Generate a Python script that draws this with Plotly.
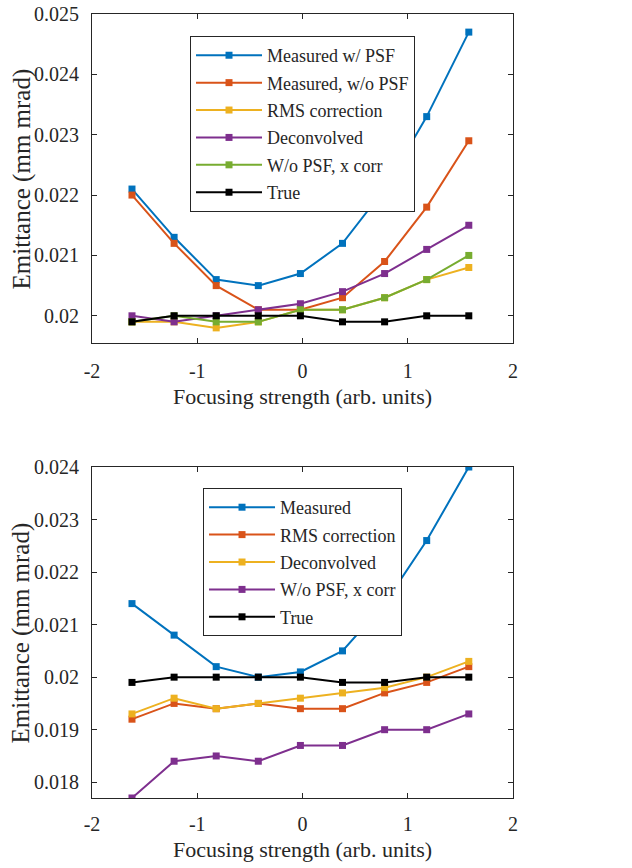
import plotly.graph_objects as go

x = [-1.62, -1.22, -0.82, -0.42, -0.02, 0.38, 0.78, 1.18, 1.58]

# Top panel
top_names = ["Measured w/ PSF", "Measured, w/o PSF", "RMS correction", "Deconvolved", "W/o PSF, x corr", "True"]
top_meas_psf = [0.0221, 0.0213, 0.0206, 0.0205, 0.0207, 0.0212, 0.0221, 0.0233, 0.0247]
top_meas_nopsf = [0.0220, 0.0212, 0.0205, 0.0201, 0.0201, 0.0203, 0.0209, 0.0218, 0.0229]
top_rms = [0.0199, 0.0199, 0.0198, 0.0199, 0.0201, 0.0201, 0.0203, 0.0206, 0.0208]
top_deconv = [0.0200, 0.0199, 0.0200, 0.0201, 0.0202, 0.0204, 0.0207, 0.0211, 0.0215]
top_xcorr = [0.0199, 0.0200, 0.0199, 0.0199, 0.0201, 0.0201, 0.0203, 0.0206, 0.0210]
top_true = [0.0199, 0.0200, 0.0200, 0.0200, 0.0200, 0.0199, 0.0199, 0.0200, 0.0200]

# Bottom panel
bot_names = ["Measured", "RMS correction", "Deconvolved", "W/o PSF, x corr", "True"]
bot_meas = [0.0214, 0.0208, 0.0202, 0.0200, 0.0201, 0.0205, 0.0214, 0.0226, 0.0240]
bot_rms = [0.0192, 0.0195, 0.0194, 0.0195, 0.0194, 0.0194, 0.0197, 0.0199, 0.0202]
bot_deconv = [0.0193, 0.0196, 0.0194, 0.0195, 0.0196, 0.0197, 0.0198, 0.0200, 0.0203]
bot_xcorr = [0.0177, 0.0184, 0.0185, 0.0184, 0.0187, 0.0187, 0.0190, 0.0190, 0.0193]
bot_true = [0.0199, 0.0200, 0.0200, 0.0200, 0.0200, 0.0199, 0.0199, 0.0200, 0.0200]

x_ticks = [-2, -1, 0, 1, 2]
x_ticktext = ["-2", "-1", "0", "1", "2"]
top_yticks = [0.020, 0.021, 0.022, 0.023, 0.024, 0.025]
top_yticktext = ["0.02", "0.021", "0.022", "0.023", "0.024", "0.025"]
bot_yticks = [0.018, 0.019, 0.020, 0.021, 0.022, 0.023, 0.024]
bot_yticktext = ["0.018", "0.019", "0.02", "0.021", "0.022", "0.023", "0.024"]

blue, orange, yellow, purple, green, black = "#0072BD", "#D95319", "#EDB120", "#7E2F8E", "#77AC30", "#000000"

FONT = "Liberation Serif"
AX = "#262626"

fig = go.Figure()

top_series = [top_meas_psf, top_meas_nopsf, top_rms, top_deconv, top_xcorr, top_true]
top_colors = [blue, orange, yellow, purple, green, black]
for i, (nm, ys, c) in enumerate(zip(top_names, top_series, top_colors)):
    fig.add_trace(go.Scatter(x=x, y=ys, name=nm, mode="lines+markers",
                             line=dict(color=c, width=2),
                             marker=dict(symbol="square", size=7, color=c),
                             xaxis="x", yaxis="y", legend="legend",
                             legendgroup="t%d" % i))

bot_series = [bot_meas, bot_rms, bot_deconv, bot_xcorr, bot_true]
bot_colors = [blue, orange, yellow, purple, black]
for i, (nm, ys, c) in enumerate(zip(bot_names, bot_series, bot_colors)):
    fig.add_trace(go.Scatter(x=x, y=ys, name=nm, mode="lines+markers",
                             line=dict(color=c, width=2),
                             marker=dict(symbol="square", size=7, color=c),
                             xaxis="x2", yaxis="y2", legend="legend2",
                             legendgroup="b%d" % i))

axis_common = dict(showline=True, linecolor=AX, linewidth=1, mirror="ticks",
                   ticks="inside", ticklen=5, tickcolor=AX, showgrid=False,
                   zeroline=False, automargin=False,
                   tickfont=dict(family=FONT, size=20, color=AX))

xt = dict(text="Focusing strength (arb. units)", font=dict(family=FONT, size=22, color=AX), standoff=7)
ytitle = "Emittance (mm mrad)"

leg_common = dict(xanchor="left", yanchor="top", bgcolor="white", bordercolor=AX, borderwidth=1,
                  font=dict(family=FONT, size=18, color=AX),
                  traceorder="grouped", tracegroupgap=1, itemwidth=66)

fig.update_layout(
    width=632, height=868,
    margin=dict(l=92, r=119, t=14, b=70, autoexpand=False),
    paper_bgcolor="white", plot_bgcolor="white",
    font=dict(family=FONT, color=AX),
    xaxis=dict(domain=[0, 1], range=[-2, 2], tickvals=x_ticks, ticktext=x_ticktext,
               anchor="y", title=xt, ticklabelstandoff=10, **axis_common),
    yaxis=dict(domain=[0.5804, 1], range=[0.01955, 0.025], tickvals=top_yticks,
               ticktext=top_yticktext, anchor="x", ticklabelstandoff=8, **axis_common),
    xaxis2=dict(domain=[0, 1], range=[-2, 2], tickvals=x_ticks, ticktext=x_ticktext,
                anchor="y2", title=xt, ticklabelstandoff=8, **axis_common),
    yaxis2=dict(domain=[0, 0.4222], range=[0.0177, 0.024], tickvals=bot_yticks,
                ticktext=bot_yticktext, anchor="x2", ticklabelstandoff=8, **axis_common),
    legend=dict(x=0.2328, y=0.9719, **leg_common),
    legend2=dict(x=0.2637, y=0.3954, **leg_common),
)

for ymid in (0.7902, 0.2111):
    fig.add_annotation(text=ytitle, textangle=-90, xref="paper", yref="paper",
                       x=-0.1663, y=ymid, xanchor="center", yanchor="middle",
                       showarrow=False, font=dict(family=FONT, size=25, color=AX))

fig.write_html("out.html")
